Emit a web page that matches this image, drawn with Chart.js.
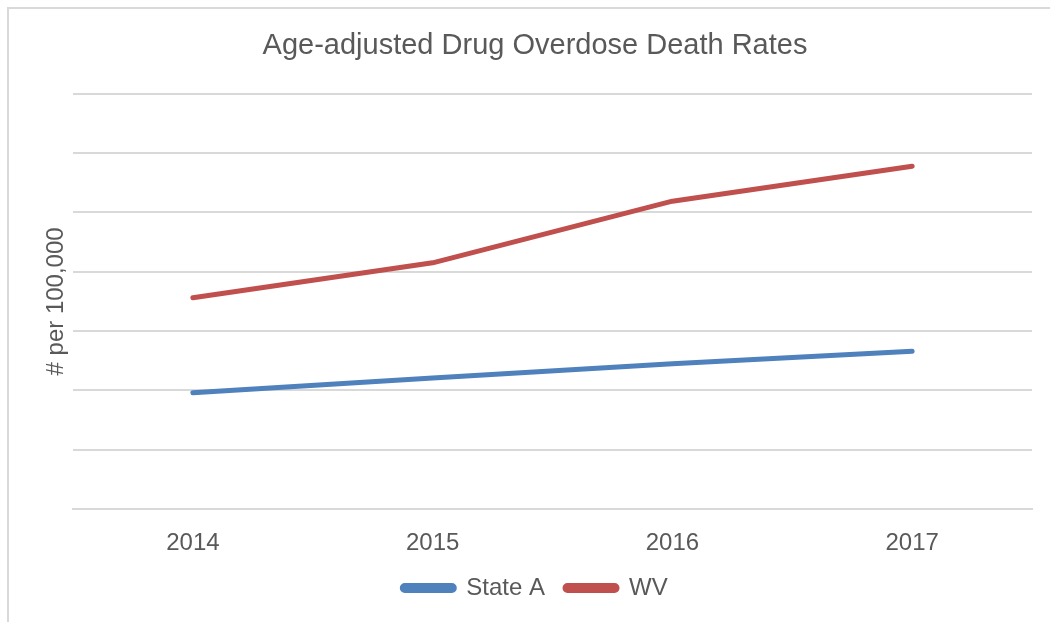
<!DOCTYPE html>
<html>
<head>
<meta charset="utf-8">
<script src="https://cdn.jsdelivr.net/npm/chart.js@4.4.1/dist/chart.umd.min.js"></script>
<style>
  html, body { margin: 0; padding: 0; background: #ffffff; }
  #wrap { position: relative; width: 1050px; height: 622px; overflow: hidden; }
  #frame { position: absolute; left: 7px; top: 7px; width: 1100px; height: 700px;
           border-left: 2px solid #d9d9d9; border-top: 2px solid #d9d9d9; box-sizing: border-box; }
  #c { position: absolute; left: 0; top: 0; }
</style>
</head>
<body>
<div id="wrap">
  <div id="frame"></div>
  <canvas id="c" width="1050" height="622"></canvas>
</div>
<script>
const years = ["2014", "2015", "2016", "2017"];
const stateA = [19.6, 22.1, 24.5, 26.6];
const wv = [35.6, 41.5, 51.9, 57.8];
const yMin = 0, yMax = 70, yStep = 10;
const chartTitle = "Age-adjusted Drug Overdose Death Rates";
const yTitle = "# per 100,000";

const FONT = "'Liberation Sans', Arial, sans-serif";
const GREY = "#595959";

new Chart(document.getElementById('c'), {
  type: 'line',
  data: {
    labels: years,
    datasets: [
      { label: 'State A', data: stateA, borderColor: '#4F81BD', backgroundColor: '#4F81BD',
        borderWidth: 5, borderCapStyle: 'round', borderJoinStyle: 'round', pointRadius: 0, tension: 0 },
      { label: 'WV', data: wv, borderColor: '#C0504D', backgroundColor: '#C0504D',
        borderWidth: 5, borderCapStyle: 'round', borderJoinStyle: 'round', pointRadius: 0, tension: 0 }
    ]
  },
  options: {
    responsive: false,
    animation: false,
    devicePixelRatio: 1,
    layout: { padding: { left: 38, right: 18, top: 0, bottom: 12 } },
    plugins: {
      title: { display: true, text: chartTitle, color: GREY,
               font: { family: FONT, size: 29, weight: 'normal' },
               padding: { top: 29, bottom: 30 } },
      legend: { display: true, position: 'bottom',
        labels: { color: GREY, font: { family: FONT, size: 24 }, boxWidth: 52, boxHeight: 5,
                  useBorderRadius: true, borderRadius: 2.5, padding: 20 } },
      tooltip: { enabled: false }
    },
    scales: {
      x: {
        offset: true,
        grid: { display: false, drawTicks: false },
        border: { display: true, color: '#d9d9d9', width: 2 },
        ticks: { color: GREY, font: { family: FONT, size: 24 }, padding: 20 },
        afterFit: (s) => { s.height = 47; }
      },
      y: {
        min: yMin, max: yMax,
        ticks: { display: false, stepSize: yStep },
        grid: { color: '#d9d9d9', lineWidth: 2, drawTicks: false },
        border: { display: false },
        title: { display: true, text: yTitle, color: GREY, font: { family: FONT, size: 24 }, padding: { top: 4, bottom: 4 } },
        afterFit: (s) => { s.width = 73 - 38; }
      }
    }
  }
});
</script>
</body>
</html>
